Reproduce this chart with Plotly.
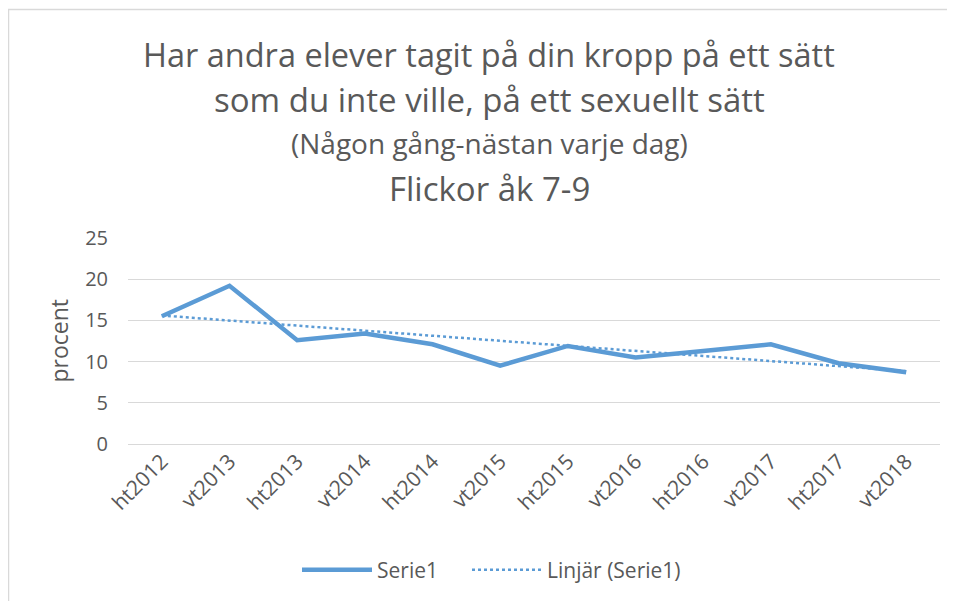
import numpy as np
import plotly.graph_objects as go

categories = ["ht2012", "vt2013", "ht2013", "vt2014", "ht2014", "vt2015",
              "ht2015", "vt2016", "ht2016", "vt2017", "ht2017", "vt2018"]
serie1 = [15.5, 19.2, 12.6, 13.4, 12.1, 9.5, 11.9, 10.5, 11.3, 12.1, 9.8, 8.7]
y_ticks = [0, 5, 10, 15, 20, 25]

title_lines = [
    ("Har andra elever tagit på din kropp på ett sätt", 32.5),
    ("som du inte ville, på ett sexuellt sätt", 33),
    ("(Någon gång-nästan varje dag)", 28),
    ("Flickor åk 7-9", 33),
]

# Excel-style linear trendline of Serie1
idx = np.arange(len(serie1))
slope, intercept = np.polyfit(idx, serie1, 1)
trend = (slope * idx + intercept).tolist()

BLUE = "#5B9BD5"
GREY = "#595959"
FONT = "Open Sans, Lato, sans-serif"

# page has an 8px body margin; work in window pixel coordinates
OFF = 8
WIN_W, WIN_H = 955, 601
W, H = WIN_W - OFF, WIN_H - OFF
PLOT_L, PLOT_R, PLOT_T, PLOT_B = 128, 940, 238, 445   # window px
L, T = PLOT_L - OFF, PLOT_T - OFF
R, B = WIN_W - PLOT_R, WIN_H - PLOT_B
pw, ph = PLOT_R - PLOT_L, PLOT_B - PLOT_T


def px_x(x):
    return (x - PLOT_L) / pw


def px_y(y):
    return (PLOT_B - y) / ph


fig = go.Figure()
fig.add_trace(go.Scatter(x=categories, y=serie1, mode="lines", name="Serie1",
                         line=dict(color=BLUE, width=4.5), legend="legend"))
fig.add_trace(go.Scatter(x=categories, y=trend, mode="lines", name="Linjär (Serie1)",
                         line=dict(color=BLUE, width=2.5, dash="dot"), legend="legend2"))

annotations = []
ys = [54, 99, 143, 188]
for (txt, sz), yy in zip(title_lines, ys):
    annotations.append(dict(text=txt, xref="paper", yref="paper", x=px_x(489), y=px_y(yy),
                            xanchor="center", yanchor="middle", showarrow=False,
                            font=dict(size=sz, color=GREY, family=FONT)))
annotations.append(dict(text="procent", xref="paper", yref="paper", x=px_x(59), y=px_y(341),
                        xanchor="center", yanchor="middle", showarrow=False, textangle=-90,
                        font=dict(size=23, color=GREY, family=FONT)))

legend_style = dict(orientation="h", yanchor="middle", xanchor="left",
                    font=dict(size=21, color=GREY, family=FONT), itemwidth=70,
                    bgcolor="rgba(0,0,0,0)")

fig.update_layout(
    width=W, height=H,
    margin=dict(l=L, r=R, t=T, b=B),
    paper_bgcolor="white", plot_bgcolor="white",
    font=dict(family=FONT, color=GREY, size=20),
    showlegend=True,
    legend=dict(x=px_x(297), y=px_y(570), **legend_style),
    legend2=dict(x=px_x(467), y=px_y(570), **legend_style),
    annotations=annotations,
    shapes=[dict(type="rect", xref="paper", yref="paper",
                 x0=px_x(8.5), x1=px_x(970), y0=px_y(8.5), y1=px_y(620),
                 line=dict(color="#D9D9D9", width=1.5), layer="below")],
)
fig.update_xaxes(type="category", range=[-0.5, len(categories) - 0.5], tickangle=-45,
                 showgrid=False, showline=False, zeroline=False, ticks="",
                 tickfont=dict(size=21, color=GREY, family=FONT))
fig.update_yaxes(range=[0, 25], tickvals=y_ticks, showgrid=True, gridcolor="#D9D9D9",
                 gridwidth=1, zeroline=True, zerolinecolor="#D9D9D9", zerolinewidth=1,
                 showline=False, ticks="", ticklabelstandoff=19,
                 tickfont=dict(size=20, color=GREY, family=FONT))

fig.write_html("out.html")
